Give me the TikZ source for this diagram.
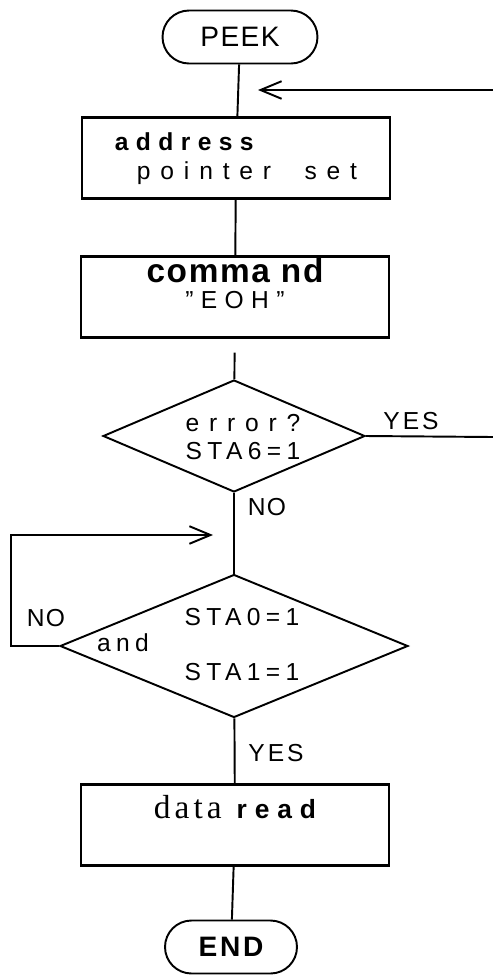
\documentclass[tikz,border=0pt]{standalone}
\usepackage{fontspec}
\setmainfont{Liberation Sans}
\newfontfamily\datafont[LetterSpace=12]{Liberation Serif}
\usetikzlibrary{shapes,arrows.meta}

\begin{document}
\begin{tikzpicture}[x=0.02cm,y=-0.02cm,line width=1.1pt,
    box/.style={draw,line width=1.3pt,minimum width=6.16cm,minimum height=1.62cm,
        inner sep=0pt,align=center,font={\fontsize{14}{16.5}\selectfont}},
    term/.style={draw,rounded rectangle,minimum height=1.06cm,inner sep=0pt},
    test/.style={draw,diamond,inner sep=0pt},
    tag/.style={inner sep=0pt,font={\fontsize{14}{16}\selectfont\addfontfeature{LetterSpace=#1}}},
    tag/.default=12,
    >={Straight Barb[length=12pt,width=10pt]}]
    \pgfmathsetmacro{\xr}{493}
    \useasboundingbox (0,0) rectangle (\xr,975);

    % Draw the start and end
    \node [term,minimum width=3.1cm,font={\fontsize{16}{18}\selectfont\addfontfeature{LetterSpace=5}}]
        (peek) at (240,37) {PEEK};
    \node [term,minimum width=2.64cm,font={\fontsize{16}{18}\selectfont\bfseries\addfontfeature{LetterSpace=10}}]
        (fin) at (231,947) {END};

    % Draw the boxes
    \node [box,align=left,text height=0.94cm,text depth=0.1cm] (addr) at (236,158)
        {{\bfseries\addfontfeature{LetterSpace=30}address}\\
         \hspace*{0.44cm}{\addfontfeature{LetterSpace=40}pointer~~set}};
    \node [box,text height=0.54cm,text depth=0.1cm] (cmd) at (235,297)
        {{\fontsize{19}{19}\selectfont\bfseries\addfontfeature{LetterSpace=5}comma nd}\\[-2pt]
         {\addfontfeature{LetterSpace=30}"EOH"}};
    \node [box,text height=0.5cm,text depth=0.78cm] (rd) at (235,825)
        {{\fontsize{19}{19}\selectfont\datafont data}\hspace{0.3cm}{\fontsize{15}{17}\selectfont\bfseries\addfontfeature{LetterSpace=30}read}};

    % Draw the tests
    \node [test,minimum width=5.24cm,minimum height=2.24cm] (err) at (234,436) {};
    \node [tag=22,align=center] (errtxt) at (243,437)
        {{\addfontfeature{LetterSpace=40}error?}\\STA6=1};
    \node [test,minimum width=6.96cm,minimum height=2.86cm] (chk) at (234,646) {};
    \node [tag=22] (sta0) at (242,617) {STA0=1};
    \node [tag=22] (sta1) at (242,672) {STA1=1};
    \node [tag=22] (and) at (123,643) {and};

    % Draw the branch labels
    \node [tag] (yes1) at (411,421) {YES};
    \node [tag=5] (no1) at (267,507) {NO};
    \node [tag=5] (no2) at (46,618) {NO};
    \node [tag] (yes2) at (276,753) {YES};

    % Draw the flow lines
    \coordinate (back) at (\xr,90);
    \coordinate (backtip) at (258,90);
    \coordinate (yesout) at (\xr,437);
    \coordinate (loopin) at (213,535);
    \draw (peek) -- (addr);
    \draw [->] (back) -- (backtip);
    \draw (addr) -- (cmd);
    \draw [shorten <=0.28cm] (cmd) -- (err);
    \draw (err.east) -- (yesout);
    \draw (err) -- (chk);
    \draw [->] (chk.west) -- ++(-48,0) |- (loopin);
    \draw (chk) -- (rd);
    \draw (rd) -- (fin);

\end{tikzpicture}
\end{document}
